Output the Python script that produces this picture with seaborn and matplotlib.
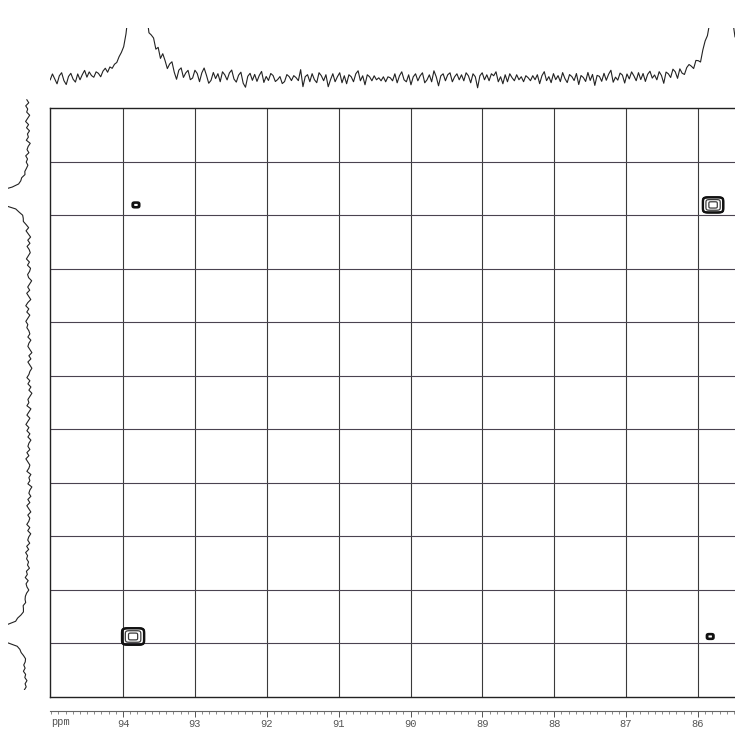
import numpy as np
import pandas as pd
import matplotlib
matplotlib.use("Agg")
import matplotlib.pyplot as plt
import seaborn as sns

# ---------------- data ----------------
tick_ppm = [94, 93, 92, 91, 90, 89, 88, 87, 86]
tick_labels = ["94", "93", "92", "91", "90", "89", "88", "87", "86"]
grid_f2 = [86, 87, 88, 89, 90, 91, 92, 93, 94]
grid_f1 = [85, 86, 87, 88, 89, 90, 91, 92, 93, 94]

# 2D cross peaks (F2 ppm, F1 ppm, relative height, width, shape power)
peak_f2 = [93.86, 85.79, 93.82, 85.83]
peak_f1 = [93.87, 85.81, 85.81, 93.87]
peak_amp = [1.0, 1.0, 0.06, 0.06]
peak_w = [0.128, 0.118, 0.056, 0.056]
peak_pow = [6, 6, 4, 4]
contour_levels = [0.03, 0.05, 0.08, 0.7, 0.985]
contour_colors = ["#111111", "#111111", "#111111", "#3a3a3a", "#3a3a3a"]
contour_widths = [1.3, 1.3, 1.3, 0.9, 0.9]

# top 1D projection: peaks (ppm, height, hwhm) and read baseline noise
top_peak_ppm = [93.80, 93.52, 85.68]
top_peak_height = [265, 14, 350]
top_peak_hwhm = [0.070, 0.120, 0.070]
top_noise = [
    3, -2, 4, -1, -6, 2, 5, -3, -7, 1, 4, -2, -5, 3, -3, 2, 6, -1, 4, 0,
    -2, 3, 1, -3, 2, 4, -1, 3, 0, 2, 1, 3, 2, 0, 1, 2, 3, 1, 2, 0,
    4, -2, 5, -1, -3, 4, 6, -2, 3, -4, 5, 2, -3, 4, 8, -1, -7, 3, 6, -3,
    2, 5, -4, -2, 6, 3, -5, 4, 9, 2, -6, -3, 5, -1, 4, -4, 6, 3, -2, 5,
    8, -1, -4, 3, 6, -5, -9, 2, 5, -2, 4, -3, 3, 7, -4, 2, -2, 5, 3, -3,
    -1, 2, -5, -3, 4, 2, -2, 3, 1, -2, 9, -8, 2, 4, -3, 5, -1, -4, 6, 3,
    -2, 4, -8, -1, 5, -3, 2, 6, -4, 3, -5, 4, 2, -3, 5, 8, -2, 3, -6, 4,
    2, -2, 3, -1, 1, -2, 2, -3, 2, 1, -2, 5, -4, 3, 7, -1, -3, 4, -6, 2,
    5, -2, 3, 6, -4, -1, 4, -3, 8, 2, -7, 3, 5, -2, 4, 6, -3, 2, 5, -1,
    4, -2, 6, 3, -4, 5, 2, -9, 3, 6, -1, 4, -2, 5, 3, 7, -3, 2, -5, 4,
    -3, 5, 1, -2, 4, -1, 2, -3, 3, 1, -2, 3, -1, 4, -5, 3, 7, -2, 2, -4,
    5, -1, 3, -3, 6, 0, -4, 4, 2, -2, 5, -6, 3, 1, -3, 6, -2, 4, -7, 3,
    2, -3, 5, -2, 4, 8, -4, 1, -2, 5, 3, -5, 4, -1, 6, 2, -3, 5, -2, 4,
    -4, 3, 6, -1, 2, -3, 5, 1, -7, 4, 2, -2, 6, 3, -4, 5, 0, -2, 4, 6,
    3, -1, 5, 2, -3, 4, 6, 1, -2, 5, 3, 7, 2, 4, 1, 6, 3, 5, 4, 2,
]

# left 1D projection: peaks (ppm, height, hwhm) and read baseline noise
left_peak_ppm = [85.70, 93.82]
left_peak_height = [64, 66]
left_peak_hwhm = [0.11, 0.11]
left_noise = [
    2, 0, 3, 1, 2, -1, 1, 3, 0, 2, -1, 1, 0, 2, -2, 0, 1, -1, 2, 0,
    1, -1, 0, 1, 0, 2, 1, 0, 1, 2, 0, 1, 0, 1, 2, 0, 1, 0, 1, 2,
    0, -2, 1, -1, -3, 0, -2, 1, -1, -2, 0, 2, -1, 1, -2, -1, 1, 0, -3, -1,
    1, -1, 2, 0, -2, 1, 3, 0, 2, -1, 1, 3, 1, 2, 0, -1, 1, -2, 0, 1,
    -1, -3, 0, -2, 1, -1, -3, -1, 0, 2, -1, 1, -2, 0, -3, -1, 1, 0, 2, -2,
    0, 2, -1, 1, 3, 0, 2, -1, 1, -2, 0, 1, -1, 2, 0, 3, 1, -1, 0, 2,
    -2, 0, -1, 1, -3, -1, 0, -2, 1, -1, 2, 0, -2, 1, -1, 0, 2, -1, 1, -2,
    0, 1, -1, 2, 0, 3, 1, 2, 0, 1, -1, 2, 1, 3, 0, 2, 1, -1, 1, 2,
    2, 1, 3, 2, 1, 2, 3, 1, 2, 1, 2, 0, 2, 1, 2, 0, 1, 2, 1, 0,
    1, 3, 2, 4, 2, 3, 1, 3, 2, 4,
]

# ---------------- figure ----------------
sns.set_theme(style="white")
plt.rcParams["font.family"] = ["Liberation Mono", "DejaVu Sans Mono"]

W, H = 735, 746
fig = plt.figure(figsize=(W / 100, H / 100), dpi=100)
fig.patch.set_facecolor("white")


def fx(px):
    return px / W


def fy(py):
    return (H - py) / H


X_LEFT, X_RIGHT = 95.016, 85.485

# main 2D panel
ax = fig.add_axes([fx(50), fy(697), fx(735) - fx(50), fy(108) - fy(697)])
ax.set_xlim(X_LEFT, X_RIGHT)
ax.set_ylim(95.0, 84.0)
ax.set_xticks(grid_f2)
ax.set_yticks(grid_f1)
ax.xaxis.grid(True, color="#3a3a3a", lw=0.8)
ax.yaxis.grid(True, color="#4a4350", lw=0.8)
ax.tick_params(length=0, labelbottom=False, labelleft=False)
for side in ["left", "top", "bottom"]:
    ax.spines[side].set_visible(True)
    ax.spines[side].set_color("#222222")
    ax.spines[side].set_linewidth(1.0)
ax.spines["right"].set_visible(False)
ax.set_facecolor("white")

for cx, cy, a, w, p in zip(peak_f2, peak_f1, peak_amp, peak_w, peak_pow):
    gx = np.linspace(cx - 0.3, cx + 0.3, 301)
    gy = np.linspace(cy - 0.3, cy + 0.3, 301)
    GX, GY = np.meshgrid(gx, gy)
    Z = a * np.exp(-((np.abs(GX - cx) / w) ** p + (np.abs(GY - cy) / w) ** p))
    idx = [i for i, l in enumerate(contour_levels) if l < a]
    ax.contour(GX, GY, Z, levels=[contour_levels[i] for i in idx],
               colors=[contour_colors[i] for i in idx],
               linewidths=[contour_widths[i] for i in idx])

# top projection
ax_top = fig.add_axes([fx(50), fy(100), fx(735) - fx(50), fy(28) - fy(100)])
top_x = np.linspace(X_LEFT + 0.03, X_RIGHT, len(top_noise))
top_I = np.array(top_noise, dtype=float)
for c, h, g in zip(top_peak_ppm, top_peak_height, top_peak_hwhm):
    top_I = top_I + h * g ** 2 / ((top_x - c) ** 2 + g ** 2)
sns.lineplot(x=top_x, y=top_I, ax=ax_top, color="#222222", lw=0.8,
             sort=False, estimator=None)
ax_top.set_xlim(X_LEFT, X_RIGHT)
ax_top.set_ylim(-21, 51)
ax_top.axis("off")

# left projection
ax_left = fig.add_axes([fx(8), fy(690), fx(46) - fx(8), fy(98) - fy(690)])
left_y = np.linspace(83.88, 94.87, len(left_noise))
left_I = np.array(left_noise, dtype=float)
for c, h, g in zip(left_peak_ppm, left_peak_height, left_peak_hwhm):
    left_I = left_I + h * g ** 2 / ((left_y - c) ** 2 + g ** 2)
sns.lineplot(x=left_I, y=left_y, ax=ax_left, color="#222222", lw=0.8,
             sort=False, estimator=None, orient="y")
ax_left.set_xlim(21, -17)
ax_left.set_ylim(94.87, 83.85)
ax_left.axis("off")

# ppm ruler
ax_r = fig.add_axes([fx(50), fy(711), fx(735) - fx(50), 0.0001])
ax_r.set_xlim(X_LEFT, X_RIGHT)
ax_r.set_yticks([])
for side in ["left", "right", "top"]:
    ax_r.spines[side].set_visible(False)
ax_r.spines["bottom"].set_color("#666666")
ax_r.spines["bottom"].set_linewidth(0.8)
ax_r.set_xticks(tick_ppm)
ax_r.set_xticklabels(tick_labels)
ax_r.set_xticks(np.arange(85.5, 95.01, 0.1), minor=True)
ax_r.tick_params(axis="x", which="major", direction="out", length=4.5,
                 width=0.7, color="#555555", labelsize=7.5,
                 labelcolor="#555555", pad=1.5, bottom=True)
ax_r.tick_params(axis="x", which="minor", direction="out", length=2.5,
                 width=0.6, color="#777777", bottom=True)
fig.text(fx(51), fy(722), "ppm", ha="left", va="center", fontsize=7.5,
         color="#555555")

fig.savefig("out.png", dpi=100, facecolor="white")
